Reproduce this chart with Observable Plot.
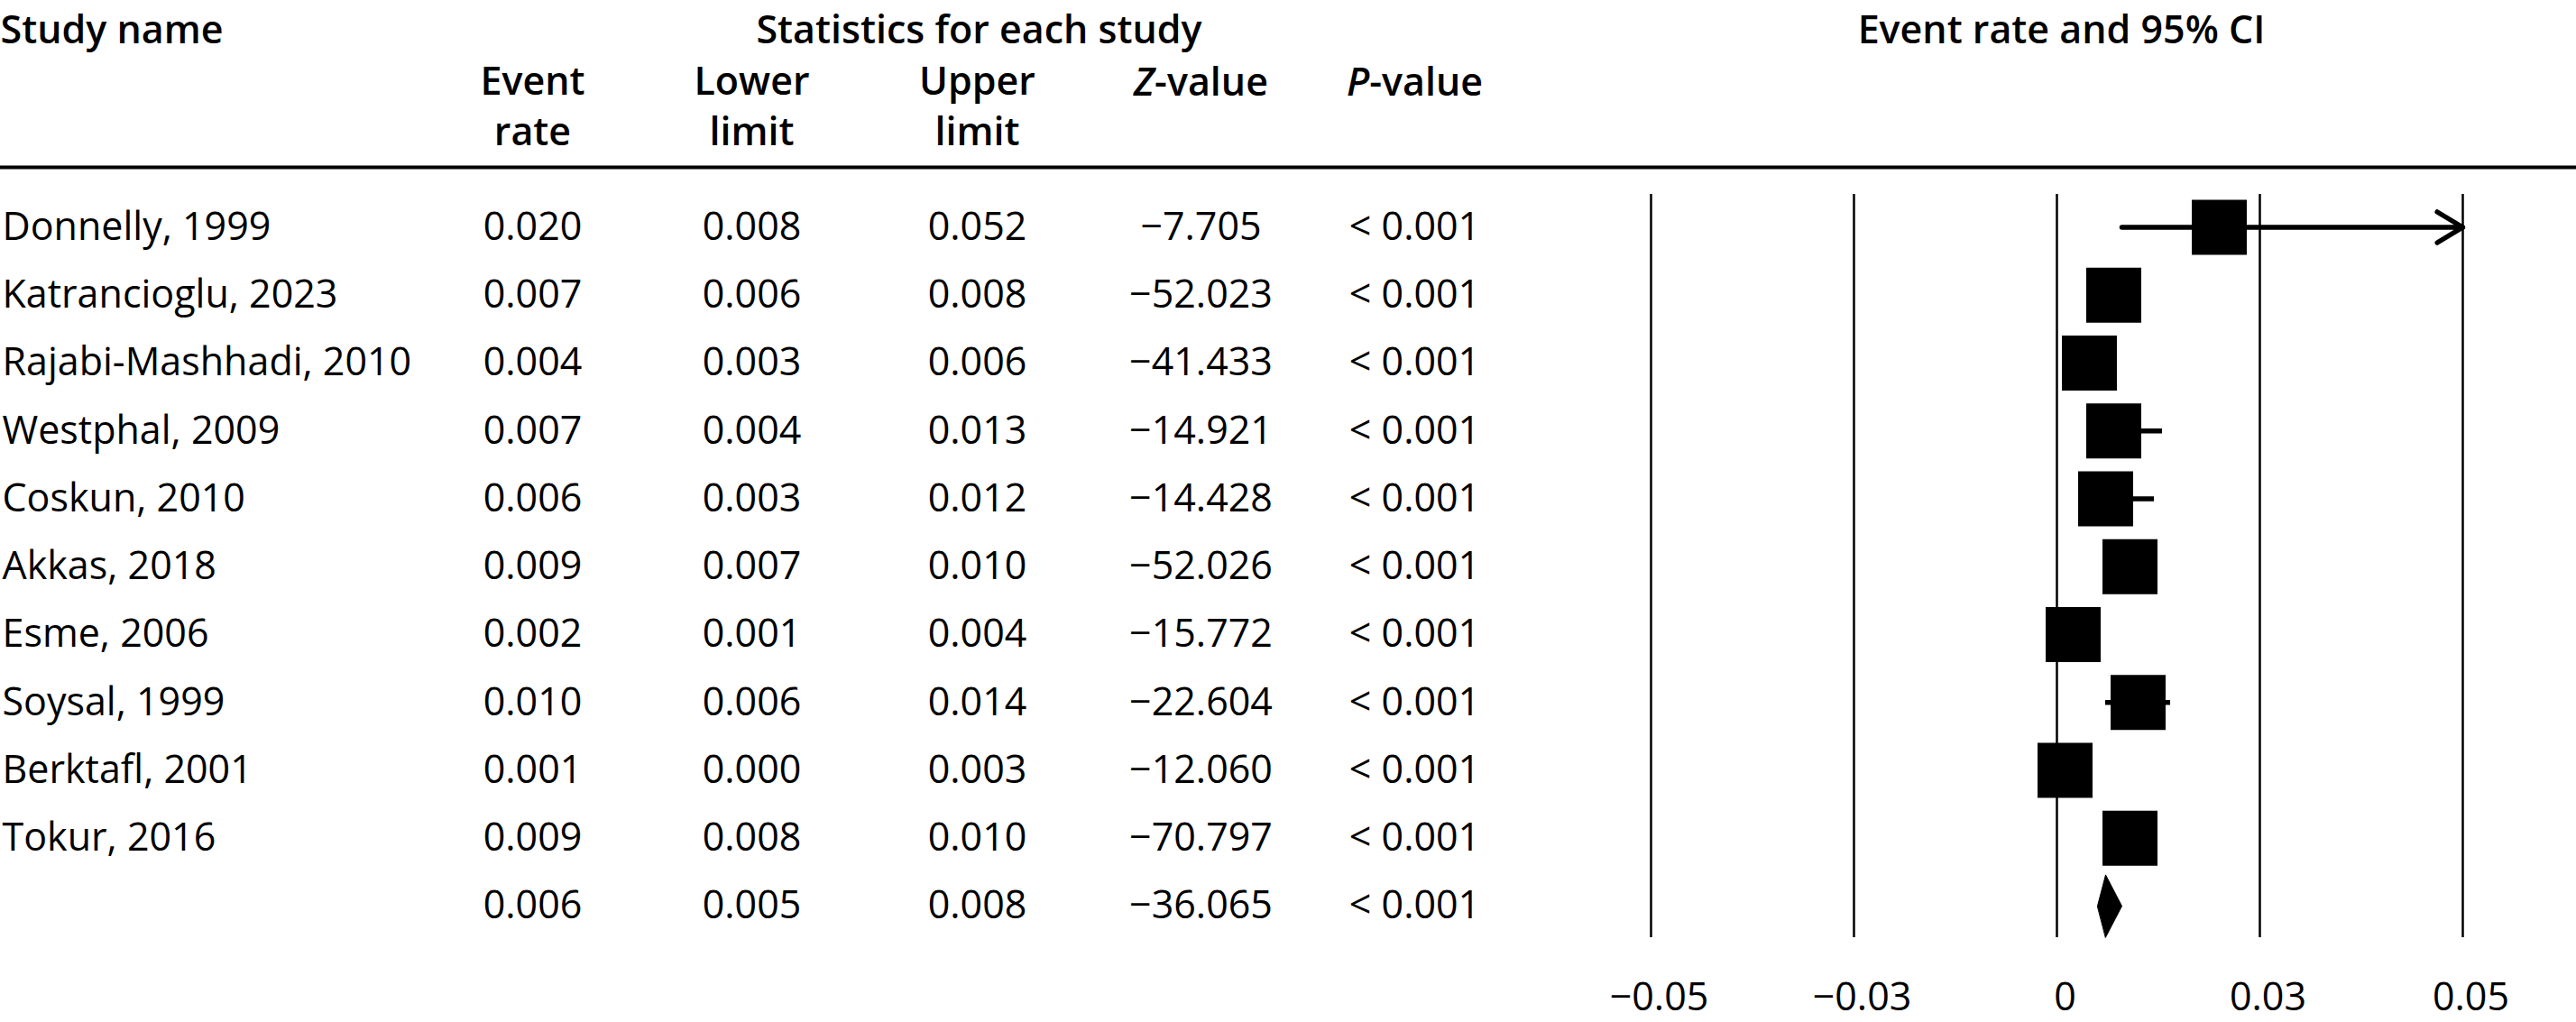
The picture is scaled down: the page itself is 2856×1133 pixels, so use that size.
<!DOCTYPE html>
<html>
<head>
<meta charset="utf-8">
<script src="https://cdn.jsdelivr.net/npm/d3@7"></script>
<script src="https://cdn.jsdelivr.net/npm/@observablehq/plot@0.6"></script>
<style>
  html, body { margin: 0; padding: 0; background: #fff; }
  #chart svg { display: block; }
</style>
</head>
<body>
<div id="chart"></div>
<script>
// ---------- data ----------
const studies = [
  "Donnelly, 1999", "Katrancioglu, 2023", "Rajabi-Mashhadi, 2010", "Westphal, 2009",
  "Coskun, 2010", "Akkas, 2018", "Esme, 2006", "Soysal, 1999", "Berktafl, 2001", "Tokur, 2016"
];
const eventRate  = [0.020, 0.007, 0.004, 0.007, 0.006, 0.009, 0.002, 0.010, 0.001, 0.009];
const lowerLimit = [0.008, 0.006, 0.003, 0.004, 0.003, 0.007, 0.001, 0.006, 0.000, 0.008];
const upperLimit = [0.052, 0.008, 0.006, 0.013, 0.012, 0.010, 0.004, 0.014, 0.003, 0.010];
const zValue     = [-7.705, -52.023, -41.433, -14.921, -14.428, -52.026, -15.772, -22.604, -12.060, -70.797];
const pValue     = ["< 0.001", "< 0.001", "< 0.001", "< 0.001", "< 0.001", "< 0.001", "< 0.001", "< 0.001", "< 0.001", "< 0.001"];
const summaryRate = 0.006, summaryLower = 0.005, summaryUpper = 0.008, summaryZ = -36.065, summaryP = "< 0.001";

const tickValues = [-0.05, -0.025, 0, 0.025, 0.05];
const tickLabels = ["−0.05", "−0.03", "0", "0.03", "0.05"];

const headerTop = ["Study name", "Statistics for each study", "Event rate and 95% CI"];
const headerSub = ["Event\nrate", "Lower\nlimit", "Upper\nlimit", "Z-value", "P-value"];

// ---------- tables built from the arrays ----------
const studyRows = studies.map((s, i) => ({
  name: s, rate: eventRate[i], lower: lowerLimit[i], upper: upperLimit[i],
  z: zValue[i], p: pValue[i], row: i
}));
const summaryRow = {name: "", rate: summaryRate, lower: summaryLower, upper: summaryUpper,
  z: summaryZ, p: summaryP, row: studies.length};
const allRows = [...studyRows, summaryRow];

// diamond half height, in row units (style)
const dh = 0.46;
const diamond = [
  {x: summaryRow.lower, y: summaryRow.row},
  {x: summaryRow.rate, y: summaryRow.row - dh},
  {x: summaryRow.upper, y: summaryRow.row},
  {x: summaryRow.rate, y: summaryRow.row + dh}
];

// ---------- layout (styles) ----------
const FONT = "'Open Sans', 'DejaVu Sans', sans-serif";
const FS = 43;
const fmt3 = d3.format(".3f");
const colDx = {name: 2, rate: 590, lower: 833, upper: 1083, z: 1331, p: 1568};
const subDx = [590, 833, 1083, 1331, 1568];
const topDx = [0, 1085, 2285];
const topAnchor = ["start", "middle", "middle"];

const W = 2856, H = 1133;
const marginTop = 215, marginBottom = 94;

function col(key, dx, anchor, fmt) {
  return Plot.text(allRows, {
    y: "row",
    text: d => fmt ? fmt(d[key]) : d[key],
    frameAnchor: "left",
    dx, textAnchor: anchor,
    fontSize: FS, fill: "black"
  });
}

const chart = Plot.plot({
  width: W, height: H,
  marginLeft: 0, marginRight: 0, marginTop, marginBottom,
  style: {fontFamily: FONT, color: "black", background: "white"},
  x: {domain: [-0.05, 0.05], range: [1830, 2730], clamp: true, axis: null},
  y: {domain: [0, 10], range: [251.5, 1004], axis: null},
  marks: [
    // header rule
    Plot.ruleY([0], {dy: -66.5, stroke: "black", strokeWidth: 4}),
    // grid lines at ticks
    Plot.ruleX(tickValues, {stroke: "black", strokeWidth: 2.5}),
    // confidence intervals
    Plot.ruleY(studyRows.filter(d => d.upper <= 0.05), {
      y: "row", x1: "lower", x2: "upper", stroke: "black", strokeWidth: 5.5
    }),
    Plot.arrow(studyRows.filter(d => d.upper > 0.05), {
      x1: "lower", x2: "upper", y1: "row", y2: "row",
      stroke: "black", strokeWidth: 5.5, headLength: 9, headAngle: 62
    }),
    // point estimates
    Plot.dot(studyRows, {x: "rate", y: "row", symbol: "square", r: 34.4, fill: "black", stroke: null}),
    // summary diamond
    Plot.line(diamond, {x: "x", y: "y", fill: "black", stroke: "black", strokeWidth: 1, curve: "linear-closed"}),
    // table columns
    col("name", colDx.name, "start"),
    col("rate", colDx.rate, "middle", fmt3),
    col("lower", colDx.lower, "middle", fmt3),
    col("upper", colDx.upper, "middle", fmt3),
    col("z", colDx.z, "middle", fmt3),
    col("p", colDx.p, "middle"),
    // headers
    ...headerTop.map((h, i) => Plot.text([h], {
      text: d => d, frameAnchor: "top-left", dx: topDx[i], dy: 47 - marginTop,
      textAnchor: topAnchor[i], lineAnchor: "bottom",
      fontSize: FS, fontWeight: 600, fill: "black"
    })),
    ...headerSub.map((h, i) => Plot.text([h], {
      text: d => d, frameAnchor: "top-left", dx: subDx[i],
      dy: (h.includes("\n") ? 160 : 105) - marginTop,
      textAnchor: "middle", lineAnchor: "bottom", lineHeight: 1.28,
      fontSize: FS, fontWeight: 600, fill: "black"
    })),
    // x axis labels
    Plot.axisX(tickValues, {
      tickFormat: d => tickLabels[tickValues.indexOf(d)],
      tickSize: 0, tickPadding: 50, fontSize: FS, dx: 9, label: null, fill: "black"
    })
  ]
});

// italicise the statistic letters in the headers
d3.select(chart).selectAll("text").each(function() {
  const t = this.textContent;
  if (t === "Z-value" || t === "P-value") {
    const el = d3.select(this);
    el.text(null);
    el.append("tspan").attr("font-style", "italic").text(t[0]);
    el.append("tspan").text(t.slice(1));
  }
});

document.getElementById("chart").appendChild(chart);
</script>
</body>
</html>
